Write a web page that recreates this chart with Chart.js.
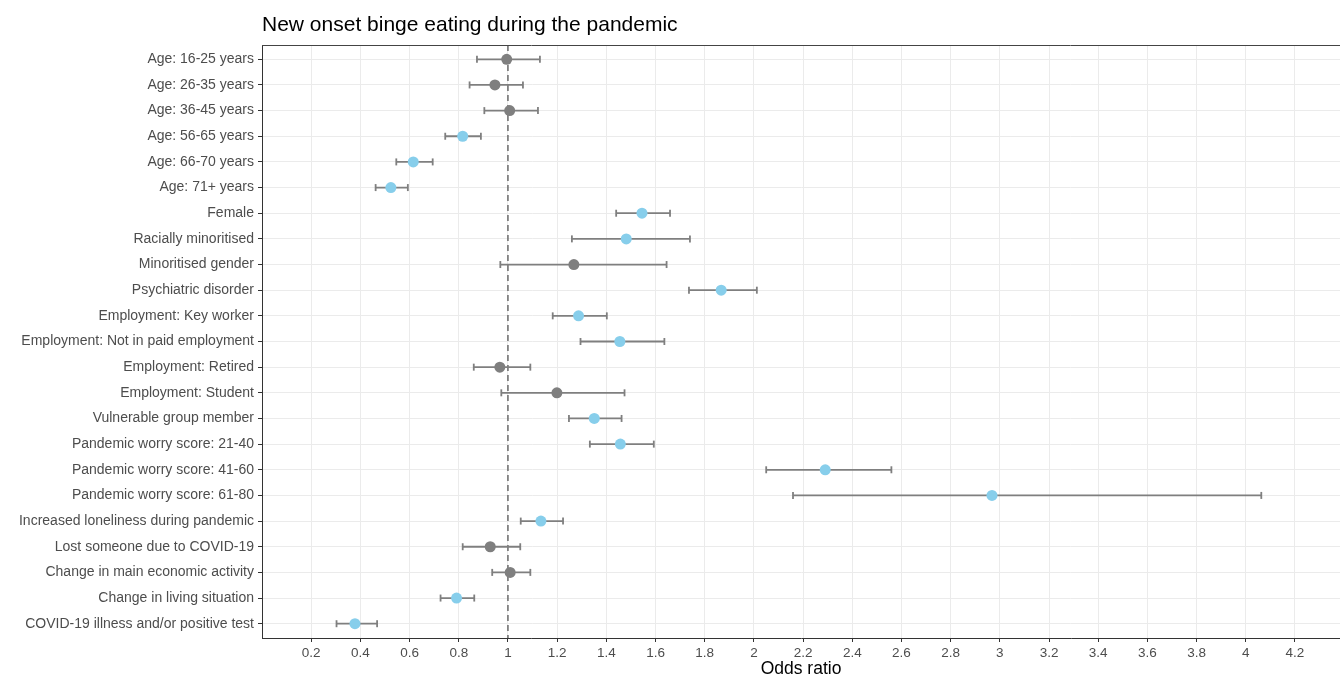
<!DOCTYPE html>
<html><head><meta charset="utf-8">
<script src="https://cdn.jsdelivr.net/npm/chart.js@4.4.1/dist/chart.umd.min.js"></script>
<style>html,body{margin:0;padding:0;background:#fff;}</style>
</head><body>
<canvas id="c" width="1340" height="680" style="display:block;width:1340px;height:680px"></canvas>
<script>
const chartTitle = "New onset binge eating during the pandemic";
const categories = [
  "Age: 16-25 years","Age: 26-35 years","Age: 36-45 years","Age: 56-65 years",
  "Age: 66-70 years","Age: 71+ years","Female","Racially minoritised",
  "Minoritised gender","Psychiatric disorder","Employment: Key worker",
  "Employment: Not in paid employment","Employment: Retired","Employment: Student",
  "Vulnerable group member","Pandemic worry score: 21-40","Pandemic worry score: 41-60",
  "Pandemic worry score: 61-80","Increased loneliness during pandemic",
  "Lost someone due to COVID-19","Change in main economic activity",
  "Change in living situation","COVID-19 illness and/or positive test"
];
const oddsRatio = [0.995,0.947,1.007,0.816,0.615,0.524,1.545,1.481,1.268,1.867,1.287,1.455,0.967,1.199,1.351,1.457,2.29,2.968,1.134,0.928,1.009,0.791,0.378];
const ciLower   = [0.874,0.844,0.904,0.745,0.546,0.462,1.44,1.26,0.969,1.736,1.182,1.295,0.861,0.973,1.248,1.333,2.05,2.159,1.052,0.816,0.936,0.726,0.303];
const ciUpper   = [1.13,1.061,1.122,0.89,0.694,0.593,1.659,1.74,1.645,2.012,1.402,1.636,1.091,1.474,1.462,1.593,2.559,4.063,1.224,1.05,1.091,0.863,0.468];
const xTickValues = [0.2,0.4,0.6,0.8,1,1.2,1.4,1.6,1.8,2,2.2,2.4,2.6,2.8,3,3.2,3.4,3.6,3.8,4,4.2];
const referenceOR = 1;

const GREY = '#7f7f7f', BLUE = '#87ceeb';
const FONT = '"Liberation Sans", Arial, Helvetica, sans-serif';
const yMin = -0.557, yMax = categories.length - 1 + 0.557;

const datasets = [];
datasets.push({
  type: 'line', data: [{x: referenceOR, y: yMin}, {x: referenceOR, y: yMax}],
  borderColor: '#555555', borderWidth: 1.3, borderDash: [6, 4], pointRadius: 0, order: 3
});
categories.forEach((c, i) => {
  datasets.push({
    type: 'line', data: [{x: ciLower[i], y: i}, {x: ciUpper[i], y: i}],
    borderColor: GREY, borderWidth: 1.8, pointStyle: 'line', rotation: 90,
    pointRadius: 3.5, pointBorderColor: GREY, pointBorderWidth: 1.8, order: 2
  });
});
datasets.push({
  type: 'scatter', data: oddsRatio.map((v, i) => ({x: v, y: i})),
  backgroundColor: oddsRatio.map((v, i) => (ciLower[i] > referenceOR || ciUpper[i] < referenceOR) ? BLUE : GREY),
  pointRadius: 5.5, borderWidth: 0, order: 1
});

const framePlugin = {
  id: 'frame',
  afterDraw(chart) {
    const {ctx, chartArea} = chart;
    ctx.save();
    ctx.strokeStyle = '#444';
    ctx.lineWidth = 1;
    ctx.beginPath();
    ctx.moveTo(chartArea.left, chartArea.top + 0.5);
    ctx.lineTo(chartArea.right, chartArea.top + 0.5);
    ctx.stroke();
    ctx.fillStyle = '#000';
    ctx.font = '21px ' + FONT;
    ctx.textBaseline = 'middle';
    ctx.textAlign = 'left';
    ctx.fillText(chartTitle, chartArea.left, 25);
    ctx.restore();
  }
};

new Chart(document.getElementById('c'), {
  type: 'scatter',
  data: { datasets },
  plugins: [framePlugin],
  options: {
    responsive: false, animation: false,
    layout: { autoPadding: false, padding: { top: 45, right: 0, bottom: 0, left: 0 } },
    plugins: { legend: { display: false }, tooltip: { enabled: false } },
    scales: {
      x: {
        type: 'linear', min: 0, max: 4.383,
        afterBuildTicks: s => { s.ticks = xTickValues.map(v => ({value: v})); },
        afterFit: s => { s.height = 42; },
        ticks: { callback: v => String(Number(v.toFixed(2))), font: {size: 13.5, family: FONT}, color: '#4d4d4d', padding: 3, maxRotation: 0, autoSkip: false },
        grid: { color: '#ebebeb', lineWidth: 1, tickColor: '#333', tickLength: 4 },
        border: { display: true, color: '#333', width: 1 },
        title: { display: true, text: 'Odds ratio', font: {size: 17.5, family: FONT}, color: '#000', padding: {top: 0, bottom: 0} }
      },
      y: {
        type: 'linear', reverse: true, min: yMin, max: yMax,
        afterBuildTicks: s => { s.ticks = categories.map((c, i) => ({value: i})); },
        afterFit: s => { s.width = 262; },
        ticks: { callback: v => categories[v], font: {size: 14, family: FONT}, color: '#4d4d4d', padding: 4, autoSkip: false },
        grid: { color: '#ebebeb', lineWidth: 1, tickColor: '#333', tickLength: 4 },
        border: { display: true, color: '#333', width: 1 }
      }
    }
  }
});
</script>
</body></html>
